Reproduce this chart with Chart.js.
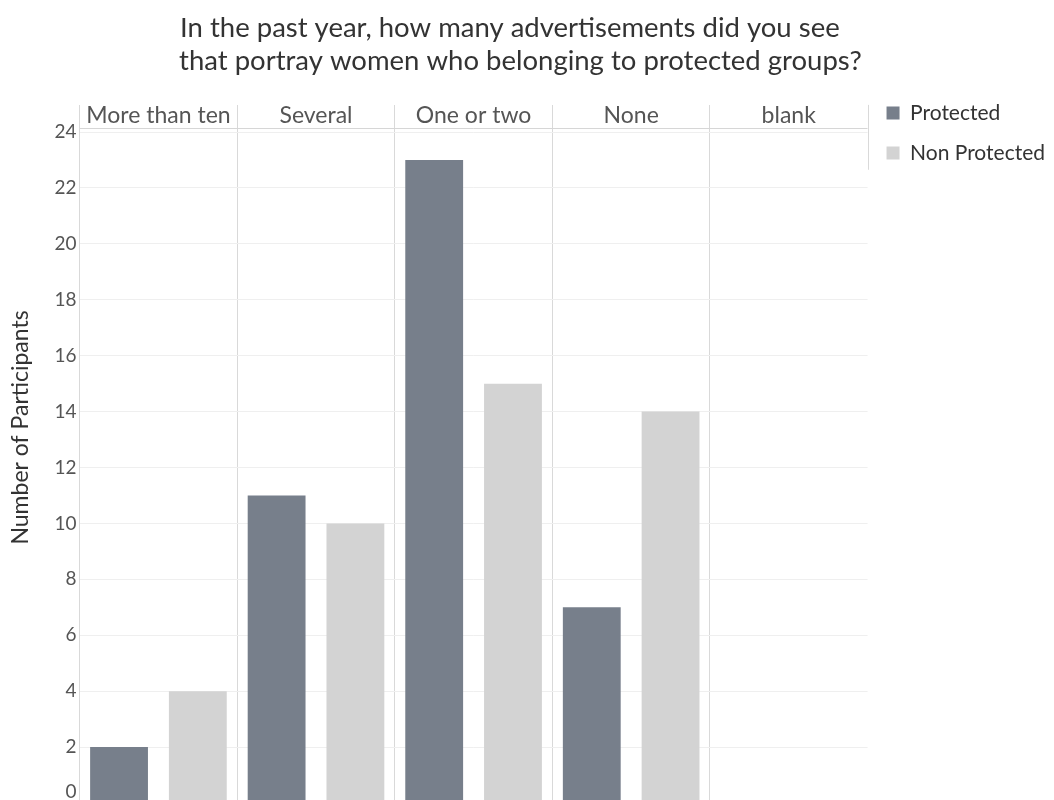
<!DOCTYPE html>
<html>
<head>
<meta charset="utf-8">
<script src="https://cdn.jsdelivr.net/npm/chart.js@4.4.0/dist/chart.umd.min.js"></script>
<style>
html,body{margin:0;padding:0;background:#fff;overflow:hidden;}
#wrap{width:1054px;height:830px;position:relative;}
</style>
</head>
<body>
<div id="wrap"><canvas id="c"></canvas></div>
<script>
const titleLines = ["In the past year, how many advertisements did you see", "that portray women who belonging to protected groups?"];
const categories = ["More than ten", "Several", "One or two", "None", "blank"];
const protectedValues = [2, 11, 23, 7, 0];
const nonProtectedValues = [4, 10, 15, 14, 0];
const yTickValues = [0, 2, 4, 6, 8, 10, 12, 14, 16, 18, 20, 22, 24];
const yAxisTitle = "Number of Participants";
const seriesNames = ["Protected", "Non Protected"];

const FONT = "Lato, 'Open Sans', sans-serif";
const HEADER_VALUE = 24.14;   // header divider line (top band of the plot)
const Y_MAX = 24.97;

const rightStub = {
  id: 'rightStub',
  afterDraw(chart) {
    const {ctx, chartArea, scales} = chart;
    const x = Math.round(chartArea.right) + 0.5;
    ctx.save();
    ctx.strokeStyle = '#d9d9d9';
    ctx.lineWidth = 1;
    ctx.beginPath();
    ctx.moveTo(x, chartArea.top);
    ctx.lineTo(x, scales.y.getPixelForValue(22.65));
    ctx.stroke();
    ctx.restore();
  }
};

new Chart(document.getElementById('c'), {
  type: 'bar',
  data: {
    labels: categories,
    datasets: [
      {label: seriesNames[0], data: protectedValues, backgroundColor: '#777f8b', categoryPercentage: 1.0, barPercentage: 0.734},
      {label: seriesNames[1], data: nonProtectedValues, backgroundColor: '#d3d3d3', categoryPercentage: 1.0, barPercentage: 0.734}
    ]
  },
  plugins: [rightStub],
  options: {
    responsive: true,
    maintainAspectRatio: false,
    animation: false,
    layout: {padding: {left: 7, right: -1, top: 0, bottom: 27}},
    plugins: {
      title: {
        display: true,
        text: [titleLines[0] + '      ', titleLines[1] + '   '],
        color: '#333',
        font: {family: FONT, size: 27.5, weight: 'normal', lineHeight: 1.18},
        padding: {top: 12, bottom: 28}
      },
      legend: {
        position: 'right',
        align: 'start',
        title: {display: true, text: '', font: {size: 10, lineHeight: 1.2}, padding: {top: 71.5, bottom: 0}},
        labels: {
          boxWidth: 13, boxHeight: 13,
          color: '#333',
          font: {family: FONT, size: 21},
          padding: 19
        }
      },
      tooltip: {enabled: false}
    },
    scales: {
      x: {
        type: 'category',
        position: 'top',
        grid: {
          offset: true,
          drawTicks: false,
          color: (c) => c.type === 'tick' ? '#d9d9d9' : 'rgba(0,0,0,0)'
        },
        border: {display: false},
        ticks: {mirror: true, padding: 0, color: '#555', autoSkip: false, maxRotation: 0,
                font: {family: FONT, size: 23, lineHeight: 0.96}}
      },
      y: {
        min: 0, max: Y_MAX,
        afterBuildTicks: (scale) => {
          scale.ticks = yTickValues.map(v => ({value: v})).concat([{value: HEADER_VALUE}]);
        },
        grid: {
          drawTicks: false,
          color: (c) => (c.tick && c.tick.value === HEADER_VALUE) ? '#d6d6d6' : '#efefef'
        },
        border: {display: false},
        ticks: {
          color: '#555', padding: 3,
          font: {family: FONT, size: 19},
          callback: (v) => v === HEADER_VALUE ? '' : (v === 0 ? ['0', ''] : String(v))
        },
        title: {display: true, text: '         ' + yAxisTitle, color: '#333', font: {family: FONT, size: 23}, padding: {top: 0, bottom: 17}}
      }
    }
  }
});
</script>
</body>
</html>
